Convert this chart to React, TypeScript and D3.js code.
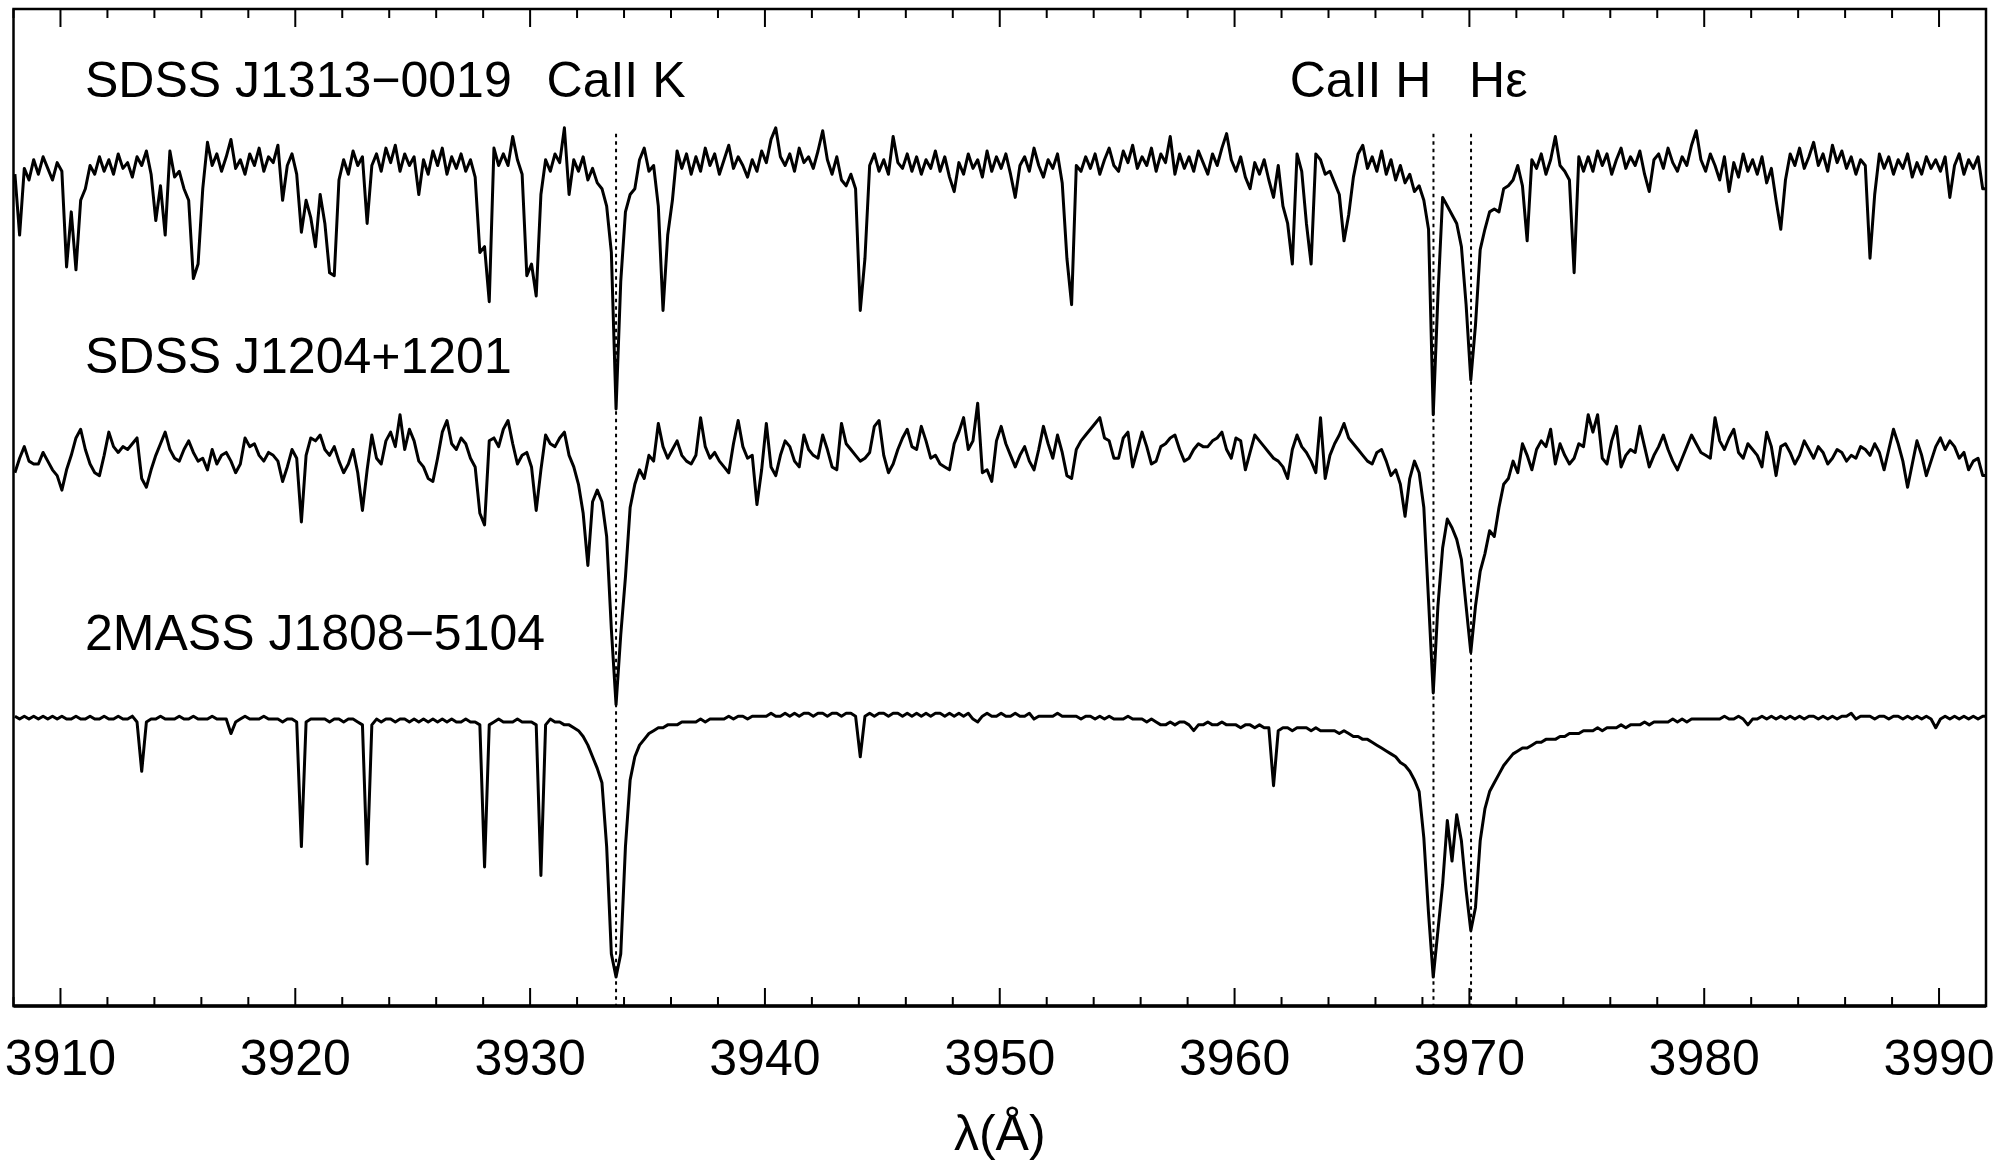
import React from 'react';
import * as d3 from 'd3';

const WIDTH = 2007;
const HEIGHT = 1162;

// common wavelength grid of the three spectra (Angstrom)
const LAMBDA_START = 3908.06;
const LAMBDA_STEP = 0.2;

// normalised flux, one value per grid step, 3908.06 .. 3992.06
const fluxJ1313 = [
  0.97, 0.76, 0.99, 0.95, 1.02, 0.97, 1.03, 0.99, 0.95, 1.01,
  0.98, 0.65, 0.84, 0.64, 0.88, 0.92, 1.00, 0.97, 1.03, 0.98,
  1.02, 0.97, 1.04, 0.99, 1.01, 0.96, 1.03, 1.00, 1.05, 0.97,
  0.81, 0.93, 0.76, 1.05, 0.96, 0.98, 0.92, 0.88, 0.61, 0.66,
  0.92, 1.08, 1.00, 1.04, 0.98, 1.03, 1.09, 0.99, 1.02, 0.97,
  1.04, 1.00, 1.06, 0.98, 1.03, 1.01, 1.07, 0.88, 1.00, 1.04,
  0.97, 0.77, 0.88, 0.82, 0.72, 0.90, 0.80, 0.63, 0.62, 0.95,
  1.02, 0.97, 1.05, 1.00, 1.03, 0.80, 1.00, 1.04, 0.98, 1.06,
  1.01, 1.07, 0.98, 1.04, 1.00, 1.03, 0.90, 1.02, 0.97, 1.05,
  1.00, 1.06, 0.97, 1.03, 0.99, 1.04, 0.98, 1.02, 0.96, 0.70,
  0.72, 0.53, 1.06, 1.00, 1.04, 1.00, 1.10, 1.02, 0.97, 0.62,
  0.66, 0.55, 0.90, 1.02, 0.98, 1.04, 1.01, 1.13, 0.90, 1.02,
  0.98, 1.03, 0.95, 0.99, 0.94, 0.92, 0.86, 0.70, 0.16, 0.60,
  0.84, 0.90, 0.92, 1.02, 1.06, 0.98, 1.00, 0.86, 0.50, 0.76,
  0.88, 1.05, 0.99, 1.04, 0.97, 1.03, 0.98, 1.06, 1.00, 1.04,
  0.97, 1.02, 1.07, 0.99, 1.03, 1.00, 0.96, 1.02, 0.98, 1.05,
  1.01, 1.09, 1.13, 1.03, 1.00, 1.04, 0.98, 1.06, 1.01, 1.03,
  0.99, 1.05, 1.12, 1.02, 0.97, 1.03, 0.95, 0.93, 0.97, 0.92,
  0.50, 0.68, 1.00, 1.04, 0.98, 1.02, 0.97, 1.10, 1.01, 0.99,
  1.04, 0.98, 1.03, 0.97, 1.02, 0.99, 1.05, 0.98, 1.03, 0.96,
  0.91, 1.01, 0.97, 1.04, 0.99, 1.02, 0.96, 1.05, 0.98, 1.03,
  0.99, 1.04, 0.97, 0.89, 1.00, 1.03, 0.98, 1.06, 1.00, 0.96,
  1.02, 0.99, 1.04, 0.94, 0.68, 0.52, 1.00, 0.98, 1.03, 0.99,
  1.04, 0.97, 1.02, 1.06, 1.00, 0.98, 1.05, 1.01, 1.07, 0.99,
  1.03, 1.00, 1.06, 0.98, 1.04, 1.01, 1.10, 0.97, 1.04, 0.99,
  1.03, 0.98, 1.05, 1.01, 0.97, 1.04, 1.00, 1.06, 1.11, 1.02,
  0.98, 1.03, 0.96, 0.92, 1.01, 0.97, 1.02, 0.95, 0.89, 1.00,
  0.86, 0.80, 0.66, 1.04, 0.98, 0.80, 0.66, 1.04, 1.02, 0.97,
  0.98, 0.94, 0.90, 0.74, 0.83, 0.96, 1.04, 1.07, 0.99, 1.03,
  0.98, 1.05, 0.97, 1.02, 0.95, 1.00, 0.94, 0.97, 0.91, 0.93,
  0.88, 0.78, 0.14, 0.55, 0.89, 0.86, 0.83, 0.80, 0.72, 0.52,
  0.26, 0.45, 0.71, 0.78, 0.84, 0.85, 0.84, 0.92, 0.93, 0.95,
  1.00, 0.93, 0.74, 1.02, 0.99, 1.04, 0.97, 1.02, 1.10, 1.00,
  0.98, 0.95, 0.63, 1.03, 0.98, 1.03, 0.98, 1.05, 1.00, 1.04,
  0.97, 1.02, 1.06, 0.99, 1.03, 1.00, 1.05, 0.97, 0.91, 1.02,
  1.04, 0.99, 1.06, 1.01, 0.98, 1.03, 1.00, 1.07, 1.12, 1.02,
  0.98, 1.04, 1.00, 0.95, 1.03, 0.91, 1.01, 0.96, 1.04, 0.98,
  1.02, 0.97, 1.03, 0.94, 0.99, 0.88, 0.78, 0.95, 1.04, 1.00,
  1.06, 0.99, 1.03, 1.08, 1.00, 1.04, 0.98, 1.07, 1.01, 1.05,
  0.99, 1.03, 0.97, 1.02, 1.00, 0.68, 0.90, 1.04, 0.99, 1.03,
  0.97, 1.02, 0.99, 1.04, 0.96, 1.01, 0.97, 1.03, 0.99, 1.02,
  0.98, 1.03, 0.89, 1.00, 1.04, 0.97, 1.02, 0.99, 1.03, 0.92,
  0.92,
];

const fluxJ1204 = [
  0.94, 0.99, 1.03, 0.98, 0.97, 0.97, 1.01, 0.98, 0.95, 0.93,
  0.88, 0.95, 1.00, 1.06, 1.09, 1.02, 0.97, 0.94, 0.93, 1.00,
  1.08, 1.03, 1.01, 1.03, 1.02, 1.04, 1.06, 0.92, 0.89, 0.95,
  1.00, 1.04, 1.08, 1.02, 0.99, 0.98, 1.02, 1.05, 1.01, 0.98,
  0.99, 0.95, 1.02, 0.97, 1.00, 1.01, 0.98, 0.94, 0.97, 1.06,
  1.03, 1.04, 1.00, 0.98, 1.01, 1.00, 0.98, 0.91, 0.96, 1.02,
  0.99, 0.77, 1.00, 1.06, 1.05, 1.07, 1.02, 1.00, 1.03, 0.98,
  0.94, 0.97, 1.02, 0.94, 0.81, 0.95, 1.07, 0.99, 0.97, 1.05,
  1.08, 1.03, 1.14, 1.02, 1.09, 1.05, 0.98, 0.96, 0.92, 0.91,
  0.99, 1.08, 1.12, 1.04, 1.02, 1.06, 1.04, 0.99, 0.96, 0.80,
  0.76, 1.05, 1.06, 1.03, 1.09, 1.12, 1.04, 0.97, 1.00, 1.01,
  0.96, 0.81, 0.95, 1.07, 1.04, 1.03, 1.06, 1.08, 1.00, 0.96,
  0.90, 0.80, 0.62, 0.84, 0.88, 0.84, 0.72, 0.40, 0.14, 0.38,
  0.58, 0.82, 0.90, 0.95, 0.92, 1.00, 0.98, 1.11, 1.03, 0.99,
  1.02, 1.05, 1.00, 0.98, 0.97, 1.00, 1.13, 1.03, 0.99, 1.01,
  0.98, 0.96, 0.94, 1.04, 1.12, 1.03, 0.99, 1.00, 0.83, 0.95,
  1.11, 0.96, 0.93, 1.00, 1.05, 1.03, 0.98, 0.96, 1.07, 1.02,
  1.00, 0.99, 1.07, 1.02, 0.96, 0.95, 1.11, 1.04, 1.02, 1.00,
  0.98, 0.99, 1.01, 1.10, 1.12, 1.00, 0.94, 0.97, 1.02, 1.06,
  1.09, 1.03, 1.02, 1.10, 1.05, 0.99, 1.00, 0.97, 0.96, 0.95,
  1.04, 1.08, 1.13, 1.02, 1.05, 1.18, 0.94, 0.95, 0.91, 1.05,
  1.10, 1.04, 1.00, 0.96, 1.00, 1.03, 0.98, 0.95, 1.02, 1.10,
  1.04, 0.99, 1.07, 1.01, 0.93, 0.92, 1.02, 1.05, 1.07, 1.09,
  1.11, 1.13, 1.06, 1.05, 0.99, 0.99, 1.06, 1.08, 0.96, 1.02,
  1.08, 1.03, 0.97, 0.98, 1.03, 1.04, 1.06, 1.07, 1.02, 0.98,
  0.99, 1.02, 1.04, 1.03, 1.03, 1.05, 1.06, 1.08, 1.02, 0.99,
  1.06, 1.05, 0.95, 1.01, 1.07, 1.05, 1.03, 1.01, 0.99, 0.98,
  0.96, 0.92, 1.02, 1.07, 1.03, 1.01, 0.98, 0.94, 1.13, 0.92,
  1.00, 1.04, 1.07, 1.11, 1.06, 1.04, 1.02, 1.00, 0.98, 0.97,
  1.01, 1.02, 0.98, 0.93, 0.95, 0.90, 0.79, 0.92, 0.98, 0.94,
  0.82, 0.50, 0.18, 0.48, 0.68, 0.78, 0.75, 0.71, 0.64, 0.48,
  0.32, 0.48, 0.60, 0.66, 0.74, 0.72, 0.82, 0.90, 0.92, 0.98,
  0.94, 1.04, 1.00, 0.95, 1.02, 1.05, 1.03, 1.09, 0.97, 1.04,
  1.00, 0.97, 0.99, 1.04, 1.03, 1.14, 1.08, 1.14, 0.99, 0.97,
  1.05, 1.10, 0.96, 1.00, 1.02, 1.01, 1.10, 1.03, 0.96, 1.00,
  1.03, 1.07, 1.02, 0.98, 0.95, 0.99, 1.03, 1.07, 1.04, 1.01,
  1.00, 0.99, 1.13, 1.05, 1.02, 1.06, 1.09, 1.01, 0.99, 1.04,
  1.02, 1.00, 0.96, 1.08, 1.03, 0.93, 1.03, 1.04, 1.01, 0.97,
  1.00, 1.05, 1.02, 0.99, 1.03, 1.01, 0.97, 0.99, 1.02, 1.01,
  0.98, 1.00, 0.99, 1.03, 1.02, 1.00, 1.04, 1.01, 0.95, 1.02,
  1.09, 1.04, 0.98, 0.89, 0.97, 1.05, 1.00, 0.93, 0.98, 1.03,
  1.06, 1.02, 1.05, 1.03, 0.99, 1.01, 0.95, 0.98, 0.99, 0.93,
  0.93,
];

const fluxJ1808 = [
  1.00, 0.99, 1.00, 0.99, 1.00, 0.99, 1.00, 0.99, 1.00, 0.99,
  1.00, 0.99, 0.99, 1.00, 0.99, 0.99, 1.00, 0.99, 0.99, 1.00,
  0.99, 0.99, 1.00, 0.99, 0.99, 1.00, 0.98, 0.81, 0.98, 0.99,
  0.99, 1.00, 0.99, 0.99, 0.99, 1.00, 0.99, 0.99, 1.00, 0.99,
  0.99, 0.99, 1.00, 0.99, 0.99, 0.99, 0.94, 0.98, 0.99, 1.00,
  0.99, 0.99, 0.99, 1.00, 0.99, 0.99, 0.99, 0.98, 0.99, 0.99,
  0.98, 0.55, 0.98, 0.99, 0.99, 0.99, 0.99, 0.98, 0.99, 0.99,
  0.98, 0.99, 0.99, 0.98, 0.97, 0.49, 0.97, 0.99, 0.98, 0.99,
  0.99, 0.98, 0.99, 0.99, 0.98, 0.99, 0.98, 0.99, 0.98, 0.99,
  0.98, 0.99, 0.98, 0.99, 0.98, 0.98, 0.99, 0.98, 0.98, 0.97,
  0.48, 0.97, 0.98, 0.99, 0.98, 0.98, 0.98, 0.99, 0.98, 0.98,
  0.98, 0.97, 0.45, 0.97, 0.99, 0.98, 0.98, 0.97, 0.97, 0.96,
  0.95, 0.93, 0.90, 0.86, 0.82, 0.77, 0.55, 0.18, 0.10, 0.18,
  0.55, 0.78, 0.86, 0.90, 0.92, 0.94, 0.95, 0.96, 0.96, 0.97,
  0.97, 0.97, 0.98, 0.98, 0.98, 0.98, 0.99, 0.98, 0.99, 0.99,
  0.99, 0.99, 1.00, 0.99, 1.00, 1.00, 0.99, 1.00, 1.00, 1.00,
  1.00, 1.01, 1.00, 1.00, 1.01, 1.00, 1.01, 1.00, 1.01, 1.01,
  1.00, 1.01, 1.01, 1.00, 1.01, 1.01, 1.00, 1.01, 1.01, 1.00,
  0.86, 1.00, 1.01, 1.00, 1.01, 1.01, 1.00, 1.01, 1.01, 1.00,
  1.01, 1.00, 1.01, 1.00, 1.01, 1.00, 1.01, 1.01, 1.00, 1.01,
  1.00, 1.01, 1.00, 1.01, 0.99, 0.98, 1.00, 1.01, 1.00, 1.00,
  1.01, 1.00, 1.00, 1.01, 1.00, 1.00, 1.01, 0.99, 1.00, 1.00,
  1.00, 1.00, 1.01, 1.00, 1.00, 1.00, 1.00, 0.99, 1.00, 1.00,
  0.99, 1.00, 0.99, 1.00, 0.99, 0.99, 0.99, 1.00, 0.99, 0.99,
  0.99, 0.98, 0.99, 0.98, 0.97, 0.97, 0.98, 0.97, 0.98, 0.98,
  0.97, 0.95, 0.97, 0.97, 0.98, 0.97, 0.97, 0.98, 0.97, 0.97,
  0.97, 0.96, 0.97, 0.97, 0.96, 0.97, 0.96, 0.96, 0.76, 0.95,
  0.96, 0.96, 0.95, 0.96, 0.96, 0.96, 0.95, 0.96, 0.95, 0.95,
  0.95, 0.95, 0.94, 0.95, 0.94, 0.93, 0.93, 0.92, 0.92, 0.91,
  0.90, 0.89, 0.88, 0.87, 0.86, 0.84, 0.83, 0.81, 0.78, 0.74,
  0.58, 0.32, 0.10, 0.26, 0.42, 0.64, 0.50, 0.66, 0.57, 0.40,
  0.26, 0.34, 0.57, 0.68, 0.74, 0.77, 0.80, 0.83, 0.85, 0.87,
  0.88, 0.89, 0.89, 0.90, 0.91, 0.91, 0.92, 0.92, 0.92, 0.93,
  0.93, 0.94, 0.94, 0.94, 0.95, 0.95, 0.95, 0.96, 0.95, 0.96,
  0.96, 0.96, 0.97, 0.96, 0.97, 0.97, 0.97, 0.98, 0.97, 0.98,
  0.98, 0.98, 0.98, 0.99, 0.98, 0.99, 0.98, 0.99, 0.99, 0.99,
  0.99, 0.99, 0.99, 0.99, 1.00, 0.99, 0.99, 1.00, 0.99, 0.97,
  0.99, 0.99, 1.00, 0.99, 1.00, 0.99, 1.00, 0.99, 1.00, 0.99,
  1.00, 0.99, 1.00, 1.00, 0.99, 1.00, 0.99, 1.00, 0.99, 1.00,
  1.00, 1.01, 0.99, 1.00, 1.00, 1.00, 0.99, 1.00, 1.00, 0.99,
  1.00, 1.00, 0.99, 1.00, 0.99, 1.00, 0.99, 1.00, 0.99, 0.96,
  0.99, 1.00, 0.99, 1.00, 0.99, 1.00, 0.99, 1.00, 0.99, 1.00,
  1.00,
];

const spectrumNames = ['SDSS J1313\u22120019', 'SDSS J1204+1201', '2MASS J1808\u22125104'];
const spectrumOffsets = [1.9, 0.9, 0];

const lineNames = ['CaII K', 'CaII H', 'H\u03b5'];
const lineCenters = [3933.66, 3968.47, 3970.07];

const majorTicks = [3910, 3920, 3930, 3940, 3950, 3960, 3970, 3980, 3990];
const minorTicks = d3.range(3908, 3993, 2).filter(t => t % 10 !== 0);

const FONT = '"Liberation Sans", Arial, Helvetica, sans-serif';

export default function App() {
  const left = 13.5, right = 1986, top = 9, bottom = 1006;

  const x = d3.scaleLinear().domain([3908, 3992]).range([left, right]);
  const y = d3.scaleLinear().domain([0, 3.44]).range([bottom, top]);

  const line = d3
    .line<[number, number]>()
    .x(d => x(d[0]))
    .y(d => y(d[1]));

  const series = [fluxJ1313, fluxJ1204, fluxJ1808].map((flux, s) =>
    flux.map((f, i) => [LAMBDA_START + i * LAMBDA_STEP, f + spectrumOffsets[s]] as [number, number])
  );

  // name labels sit above each spectrum
  const nameBaselines = [97, 373, 650];
  const lineAnchors = ['middle', 'end', 'start'];
  const lineLabelPad = [0, -2, -2];

  return (
    <svg
      width={WIDTH}
      height={HEIGHT}
      style={{ position: 'absolute', left: 0, top: 0, background: '#fff' }}
      fontFamily={FONT}
    >
      <defs>
        <clipPath id="plot-area">
          <rect x={left} y={top} width={right - left} height={bottom - top} />
        </clipPath>
      </defs>

      {/* marker lines */}
      {lineCenters.map((c, i) => (
        <line
          key={'m' + i}
          x1={x(c)}
          x2={x(c)}
          y1={y(3.01)}
          y2={bottom}
          stroke="#000"
          strokeWidth={2}
          strokeDasharray="3.5,4"
        />
      ))}

      {/* spectra */}
      <g clipPath="url(#plot-area)">
        {series.map((pts, s) => (
          <path
            key={'s' + s}
            d={line(pts) || ''}
            fill="none"
            stroke="#000"
            strokeWidth={3}
            strokeLinejoin="round"
          />
        ))}
      </g>

      {/* ticks, top and bottom, pointing inwards */}
      {majorTicks.map(t => (
        <g key={'M' + t}>
          <line x1={x(t)} x2={x(t)} y1={bottom} y2={bottom - 18} stroke="#000" strokeWidth={2} />
          <line x1={x(t)} x2={x(t)} y1={top} y2={top + 18} stroke="#000" strokeWidth={2} />
          <text x={x(t)} y={1075} fontSize={50} textAnchor="middle">
            {t}
          </text>
        </g>
      ))}
      {minorTicks.map(t => (
        <g key={'m' + t}>
          <line x1={x(t)} x2={x(t)} y1={bottom} y2={bottom - 9} stroke="#000" strokeWidth={2} />
          <line x1={x(t)} x2={x(t)} y1={top} y2={top + 9} stroke="#000" strokeWidth={2} />
        </g>
      ))}

      {/* frame */}
      <rect x={left} y={top} width={right - left} height={bottom - top} fill="none" stroke="#000" strokeWidth={2.5} />
      <line x1={left} x2={right} y1={bottom} y2={bottom} stroke="#000" strokeWidth={3.5} />

      {/* labels */}
      {spectrumNames.map((n, i) => (
        <text key={'n' + i} x={85} y={nameBaselines[i]} fontSize={50}>
          {n}
        </text>
      ))}
      {lineNames.map((n, i) => (
        <text
          key={'l' + i}
          x={x(lineCenters[i]) + lineLabelPad[i]}
          y={nameBaselines[0]}
          fontSize={50}
          textAnchor={lineAnchors[i]}
        >
          {n}
        </text>
      ))}

      <text x={(left + right) / 2} y={1150} fontSize={50} textAnchor="middle">
        λ(Å)
      </text>
    </svg>
  );
}
